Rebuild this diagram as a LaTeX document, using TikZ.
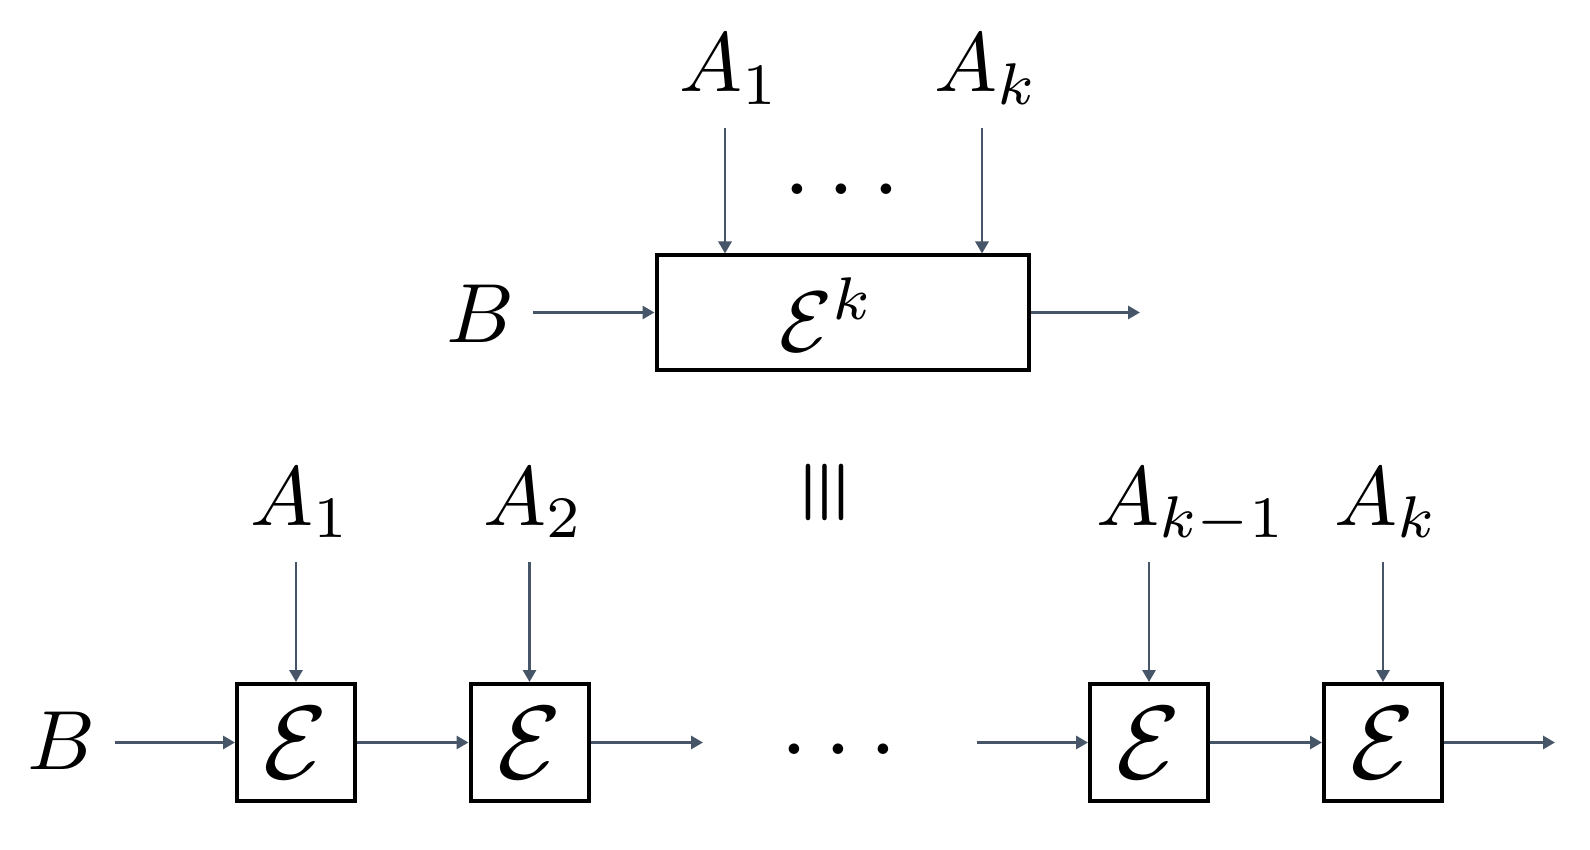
\documentclass[tikz,border=0pt]{standalone}
\usepackage{bm}
\usetikzlibrary{arrows.meta}
\definecolor{arrc}{HTML}{475569}
\tikzset{
  arr/.style={draw=arrc, line width=2.9pt, -{Triangle[length=12pt,width=13pt]}},
  ebox/.style={draw=black, line width=4pt, minimum width=118pt, minimum height=117pt, inner sep=0pt},
  bigbox/.style={draw=black, line width=4pt, minimum width=372pt, minimum height=114pt, inner sep=0pt},
  lbl/.style={scale=8.4, inner sep=0pt, anchor=base west},
  dotsl/.style={scale=10, inner sep=0pt, anchor=base},
}
\begin{document}
\begin{tikzpicture}[x=1pt,y=-1pt]
\useasboundingbox (0,0) rectangle (1590,850);
% ---------- top ----------
\node[bigbox] (big) at (842.5,312.5) {};
\node[inner sep=0pt, anchor=base west, scale=8.6] (Ek) at (778,351) {$\mathcal{E}^k$};
\node[lbl] (Bt) at (445,342) {$B$};
\node[lbl] (A1t) at (678,92) {$A_1$};
\node[lbl] (Akt) at (933,92) {$A_k$};
\node[dotsl] (dt) at (842,195) {$\ldots$};
\coordinate (bt0) at (533,312.5);
\coordinate (a1t0) at (725,128);
\coordinate (akt0) at (982,128);
\coordinate (outt) at (1140,312.5);
\draw[arr] (bt0) -- (big.west);
\draw[arr] (a1t0) -- (a1t0 |- big.north);
\draw[arr] (akt0) -- (akt0 |- big.north);
\draw[arr] (big.east) -- (outt);
% ---------- equivalence ----------
\node[scale=7.4, inner sep=0pt] (eq) at (825,492) {\rotatebox{90}{$\bm{\equiv}$}};
% ---------- bottom ----------
\node[ebox] (e1) at (296,742.5) {\scalebox{10.4}{$\mathcal{E}$}};
\node[ebox] (e2) at (529.5,742.5) {\scalebox{10.4}{$\mathcal{E}$}};
\node[ebox] (e3) at (1149,742.5) {\scalebox{10.4}{$\mathcal{E}$}};
\node[ebox] (e4) at (1383,742.5) {\scalebox{10.4}{$\mathcal{E}$}};
\node[lbl] (Bb) at (26,769) {$B$};
\node[lbl] (A1b) at (249,525) {$A_1$};
\node[lbl] (A2b) at (482,525) {$A_2$};
\node[lbl] (Akmb) at (1095,525) {$A_{k-1}$};
\node[lbl] (Akb) at (1333,525) {$A_k$};
\node[dotsl] (db) at (839,754) {$\ldots$};
\coordinate (bb0) at (115,742.5);
\coordinate (o2) at (703,742.5);
\coordinate (i3) at (977,742.5);
\coordinate (o4) at (1555,742.5);
\coordinate (a1b0) at (296,562);
\coordinate (a2b0) at (529.5,562);
\coordinate (a3b0) at (1149,562);
\coordinate (a4b0) at (1383,562);
\draw[arr] (bb0) -- (e1.west);
\draw[arr] (e1.east) -- (e2.west);
\draw[arr] (e2.east) -- (o2);
\draw[arr] (i3) -- (e3.west);
\draw[arr] (e3.east) -- (e4.west);
\draw[arr] (e4.east) -- (o4);
\draw[arr] (a1b0) -- (e1.north);
\draw[arr] (a2b0) -- (e2.north);
\draw[arr] (a3b0) -- (e3.north);
\draw[arr] (a4b0) -- (e4.north);
\end{tikzpicture}
\end{document}
